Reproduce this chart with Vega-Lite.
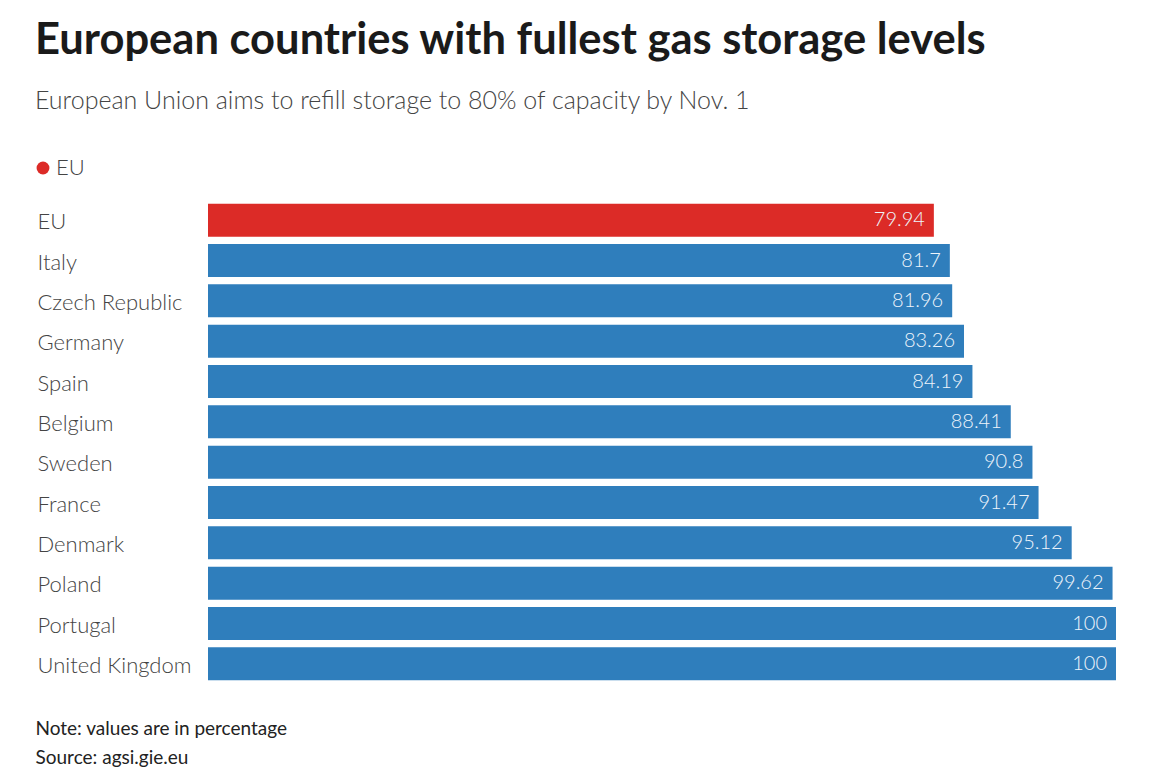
{
  "$schema": "https://vega.github.io/schema/vega-lite/v6.json",
  "autosize": "none",
  "width": 908,
  "height": 484,
  "padding": {"left": 208, "top": 200, "right": 59, "bottom": 96},
  "background": "white",
  "config": {"view": {"stroke": null}},
  "title": {
    "text": "European countries with fullest gas storage levels",
    "subtitle": "European Union aims to refill storage to 80% of capacity by Nov. 1",
    "anchor": "start",
    "frame": "group",
    "dx": -173,
    "offset": 42,
    "font": "Lato",
    "fontSize": 43.5,
    "fontWeight": "bold",
    "color": "#1a1a1a",
    "subtitleFont": "Lato",
    "subtitleFontSize": 25,
    "subtitleFontWeight": 300,
    "subtitleColor": "#444444",
    "subtitlePadding": 26
  },
  "data": {
    "values": [
      {"country": "EU", "value": 79.94, "group": "EU"},
      {"country": "Italy", "value": 81.7, "group": "Country"},
      {"country": "Czech Republic", "value": 81.96, "group": "Country"},
      {"country": "Germany", "value": 83.26, "group": "Country"},
      {"country": "Spain", "value": 84.19, "group": "Country"},
      {"country": "Belgium", "value": 88.41, "group": "Country"},
      {"country": "Sweden", "value": 90.8, "group": "Country"},
      {"country": "France", "value": 91.47, "group": "Country"},
      {"country": "Denmark", "value": 95.12, "group": "Country"},
      {"country": "Poland", "value": 99.62, "group": "Country"},
      {"country": "Portugal", "value": 100, "group": "Country"},
      {"country": "United Kingdom", "value": 100, "group": "Country"}
    ]
  },
  "encoding": {
    "y": {
      "field": "country",
      "type": "nominal",
      "sort": null,
      "scale": {"paddingInner": 0.18, "paddingOuter": 0.09},
      "axis": {
        "title": null,
        "domain": false,
        "ticks": false,
        "tickSize": 0,
        "labelAlign": "left",
        "labelPadding": 171,
        "labelFont": "Lato",
        "labelFontSize": 22,
        "labelFontWeight": 300,
        "labelColor": "#444444",
        "labelOffset": 2
      }
    },
    "x": {
      "field": "value",
      "type": "quantitative",
      "scale": {"domain": [0, 100], "nice": false},
      "axis": {
        "grid": false,
        "labels": false,
        "ticks": false,
        "domain": false,
        "title": ["Note: values are in percentage", "Source: agsi.gie.eu"],
        "titleAnchor": "start",
        "titleAlign": "left",
        "titleX": -173,
        "titleY": 35,
        "titleBaseline": "top",
        "titleFont": "Lato",
        "titleFontSize": 19,
        "titleFontWeight": "normal",
        "titleColor": "#222222",
        "titleLineHeight": 29
      }
    }
  },
  "layer": [
    {
      "mark": {"type": "bar"},
      "encoding": {
        "color": {
          "field": "group",
          "type": "nominal",
          "scale": {"domain": ["EU", "Country"], "range": ["#dc2b27", "#2f7ebc"]},
          "legend": {
            "title": null,
            "values": ["EU"],
            "orient": "none",
            "legendX": -176,
            "legendY": -43,
            "symbolType": "circle",
            "symbolSize": 165,
            "symbolStrokeWidth": 0,
            "labelFont": "Lato",
            "labelFontSize": 22,
            "labelFontWeight": 300,
            "labelColor": "#444444",
            "labelOffset": 2
          }
        }
      }
    },
    {
      "mark": {
        "type": "text",
        "align": "right",
        "baseline": "middle",
        "dx": -9,
        "font": "Lato",
        "fontSize": 20,
        "fontWeight": 300,
        "color": "#eef4fb"
      },
      "encoding": {
        "text": {"field": "value", "type": "quantitative"}
      }
    }
  ]
}
